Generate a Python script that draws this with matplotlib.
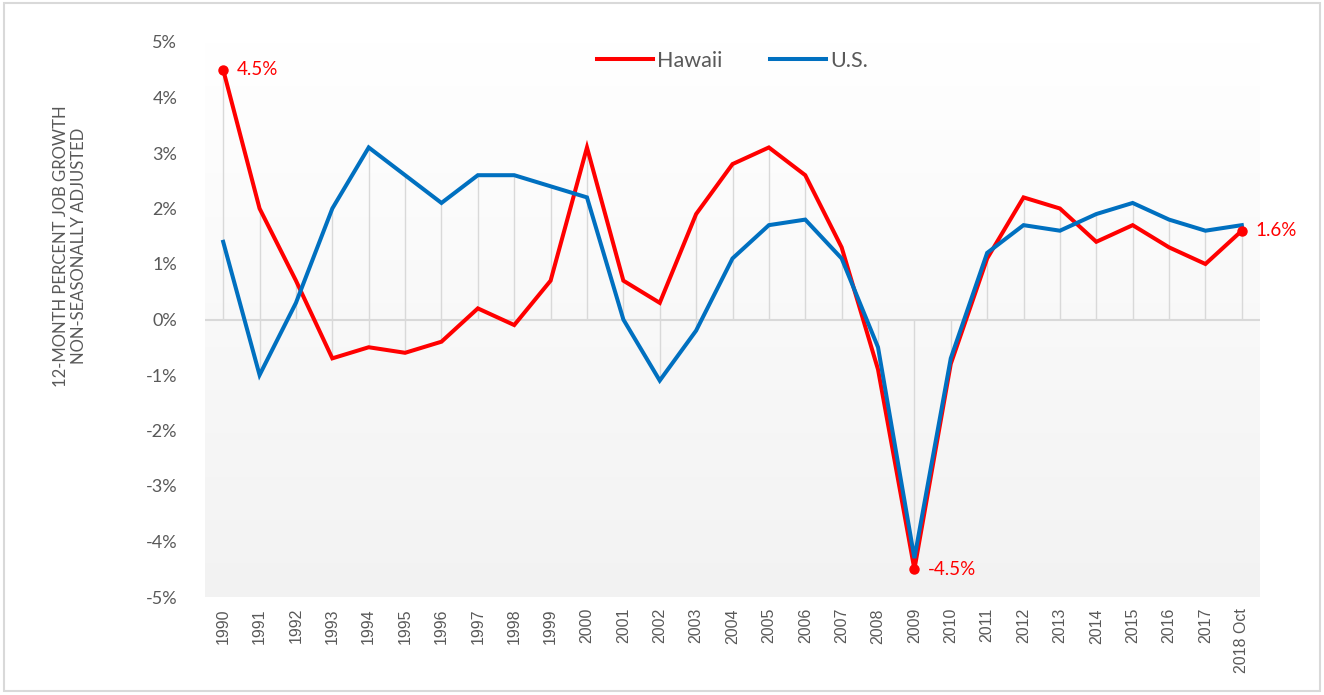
import matplotlib
matplotlib.use("Agg")
import matplotlib.pyplot as plt
import numpy as np
from matplotlib.patches import Rectangle

anos = ["1990", "1991", "1992", "1993", "1994", "1995", "1996", "1997", "1998",
        "1999", "2000", "2001", "2002", "2003", "2004", "2005", "2006", "2007",
        "2008", "2009", "2010", "2011", "2012", "2013", "2014", "2015", "2016",
        "2017", "2018 Oct"]
hawaii = [4.5, 2.0, 0.7, -0.7, -0.5, -0.6, -0.4, 0.2, -0.1, 0.7, 3.1, 0.7, 0.3,
          1.9, 2.8, 3.1, 2.6, 1.3, -0.9, -4.5, -0.8, 1.1, 2.2, 2.0, 1.4, 1.7,
          1.3, 1.0, 1.6]
eua = [1.4, -1.0, 0.3, 2.0, 3.1, 2.6, 2.1, 2.6, 2.6, 2.4, 2.2, 0.0, -1.1, -0.2,
       1.1, 1.7, 1.8, 1.1, -0.5, -4.3, -0.7, 1.2, 1.7, 1.6, 1.9, 2.1, 1.8, 1.6,
       1.7]
rotulos = {0: "4.5%", 19: "-4.5%", 28: "1.6%"}

VERMELHO = "#ff0000"
AZUL = "#0070c0"
CINZA_TXT = "#595959"
FONTE = ["Lato", "DejaVu Sans"]

fig = plt.figure(figsize=(13.24, 6.95), dpi=100)
ax = fig.add_axes([205 / 1324, 1 - 597 / 695, (1260 - 205) / 1324, (597 - 42) / 695])

x = np.arange(len(anos))

# fundo em degradê (branco no topo, cinza claro embaixo)
grad = np.linspace(1.0, 0.95, 256).reshape(-1, 1)
ax.imshow(np.dstack([grad, grad, grad]), extent=(-0.5, len(anos) - 0.5, -5, 5),
          aspect="auto", origin="upper", zorder=0)

# linhas de queda até o zero
for xi, h, u in zip(x, hawaii, eua):
    lo = min(0, h, u)
    hi = max(0, h, u)
    ax.vlines(xi, lo, hi, color="#d9d9d9", lw=1.0, zorder=1)
ax.axhline(0, color="#d9d9d9", lw=1.5, zorder=1)

ax.plot(x, hawaii, color=VERMELHO, lw=2.9, label="Hawaii", zorder=3,
        solid_joinstyle="miter")
ax.plot(x, eua, color=AZUL, lw=2.9, label="U.S.", zorder=4,
        solid_joinstyle="miter")

for i, txt in rotulos.items():
    ax.plot(x[i], hawaii[i], "o", color=VERMELHO, ms=6.5, zorder=5)
    ax.annotate(txt, (x[i], hawaii[i]), xytext=(10, 0), textcoords="offset points",
                color=VERMELHO, fontsize=13.5, family=FONTE, va="center", ha="left",
                zorder=6)

ax.set_xlim(-0.5, len(anos) - 0.5)
ax.set_ylim(-5, 5)
ax.set_yticks(range(-5, 6))
ax.set_yticklabels([f"{v}%" for v in range(-5, 6)], family=FONTE, fontsize=13,
                   color=CINZA_TXT)
ax.set_xticks(x)
ax.set_xticklabels(anos, rotation=90, family=["Liberation Sans", "DejaVu Sans"],
                   fontsize=11.5, color=CINZA_TXT)
ax.tick_params(length=0)
ax.tick_params(axis="y", pad=20)
ax.tick_params(axis="x", pad=8)
for s in ax.spines.values():
    s.set_visible(False)

leg = ax.legend(loc="upper center", bbox_to_anchor=(0.5, 1.0), ncol=2, frameon=False,
                prop={"family": FONTE, "size": 15.5}, handlelength=2.6,
                handletextpad=0.2, columnspacing=2.2, borderaxespad=0.0)
for t in leg.get_texts():
    t.set_color(CINZA_TXT)

fig.text(70 / 1324, 1 - 246 / 695,
         "12-MONTH PERCENT JOB GROWTH\nNON-SEASONALLY ADJUSTED",
         rotation=90, ha="center", va="center", family=FONTE, fontsize=12,
         color=CINZA_TXT, linespacing=1.1)

# moldura externa
fig.patches.append(Rectangle((4 / 1324, 4 / 695), 1316 / 1324, 688 / 695,
                             transform=fig.transFigure, fill=False,
                             edgecolor="#d9d9d9", lw=1.5))

fig.savefig("out.png", dpi=100)
